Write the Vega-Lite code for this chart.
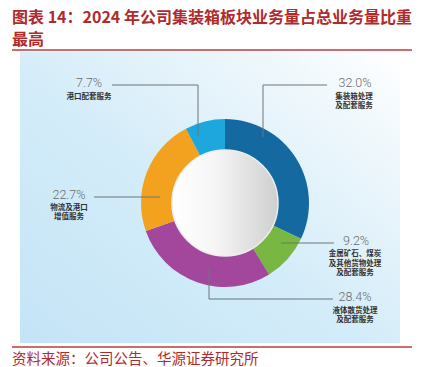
{
  "$schema": "https://vega.github.io/schema/vega-lite/v6.json",
  "autosize": {"type": "fit", "contains": "padding"},
  "width": 421,
  "height": 367,
  "padding": 0,
  "background": "#ffffff",
  "config": {"view": {"stroke": null}},
  "datasets": {
    "share": [
      {"name": "集装箱处理及配套服务", "value": 32.0, "ord": 1},
      {"name": "金属矿石、煤炭及其他货物处理及配套服务", "value": 9.2, "ord": 2},
      {"name": "液体散货处理及配套服务", "value": 28.4, "ord": 3},
      {"name": "物流及港口增值服务", "value": 22.7, "ord": 4},
      {"name": "港口配套服务", "value": 7.7, "ord": 5}
    ],
    "leaders": [
      {"x": 112, "y": 85, "x2": 198, "y2": 85},
      {"x": 198, "y": 85, "x2": 198, "y2": 136},
      {"x": 94, "y": 197, "x2": 160, "y2": 197},
      {"x": 327, "y": 85, "x2": 263, "y2": 85},
      {"x": 263, "y": 85, "x2": 263, "y2": 137},
      {"x": 281, "y": 243, "x2": 334, "y2": 243},
      {"x": 209, "y": 268, "x2": 209, "y2": 299},
      {"x": 209, "y": 299, "x2": 333, "y2": 299}
    ],
    "pcts": [
      {"text": "7.7%", "x": 89, "y": 83},
      {"text": "22.7%", "x": 69, "y": 195},
      {"text": "32.0%", "x": 355, "y": 83},
      {"text": "9.2%", "x": 356, "y": 241},
      {"text": "28.4%", "x": 355, "y": 297}
    ],
    "descs": [
      {"text": "港口配套服务", "x": 89, "y": 97},
      {"text": "物流及港口", "x": 69, "y": 207.5},
      {"text": "增值服务", "x": 69, "y": 217},
      {"text": "集装箱处理", "x": 354, "y": 96.5},
      {"text": "及配套服务", "x": 354, "y": 106},
      {"text": "金属矿石、煤炭", "x": 355, "y": 254},
      {"text": "及其他货物处理", "x": 355, "y": 263.5},
      {"text": "及配套服务", "x": 355, "y": 273},
      {"text": "液体散货处理", "x": 355, "y": 310.5},
      {"text": "及配套服务", "x": 355, "y": 320}
    ],
    "heads": [
      {"text": "图表 14：2024 年公司集装箱板块业务量占总业务量比重", "x": 12, "y": 17.5},
      {"text": "最高", "x": 12, "y": 39.5}
    ],
    "foot": [
      {"text": "资料来源：公司公告、华源证券研究所", "x": 12, "y": 360}
    ],
    "redlines": [
      {"x": 12, "x2": 412, "y": 50},
      {"x": 12, "x2": 412, "y": 347}
    ],
    "one": [{}]
  },
  "encoding": {},
  "layer": [
    {
      "data": {"name": "one"},
      "mark": {
        "type": "rect",
        "color": {
          "gradient": "linear", "x1": 0, "y1": 1, "x2": 1, "y2": 0,
          "stops": [
            {"offset": 0, "color": "#c4e4f6"},
            {"offset": 0.45, "color": "#d3ecf9"},
            {"offset": 0.8, "color": "#eef7fc"},
            {"offset": 1, "color": "#ffffff"}
          ]
        }
      },
      "encoding": {
        "x": {"datum": 20, "type": "quantitative", "scale": {"domain": [0, 421], "nice": false, "zero": false}, "axis": null},
        "x2": {"datum": 400},
        "y": {"datum": 52, "type": "quantitative", "scale": {"domain": [0, 367], "nice": false, "zero": false, "reverse": true}, "axis": null},
        "y2": {"datum": 343}
      }
    },
    {
      "data": {"name": "redlines"},
      "mark": {"type": "rule", "color": "#c0393b", "strokeWidth": 1.5},
      "encoding": {
        "x": {"field": "x", "type": "quantitative"},
        "x2": {"field": "x2"},
        "y": {"field": "y", "type": "quantitative"}
      }
    },
    {
      "data": {"name": "share"},
      "mark": {"type": "arc", "outerRadius": 84, "innerRadius": 50},
      "encoding": {
        "x": {"datum": 225, "type": "quantitative"},
        "y": {"datum": 203, "type": "quantitative"},
        "theta": {"field": "value", "type": "quantitative", "stack": true},
        "order": {"field": "ord", "type": "quantitative", "sort": "ascending"},
        "color": {
          "field": "name", "type": "nominal", "legend": null,
          "scale": {
            "domain": ["集装箱处理及配套服务", "金属矿石、煤炭及其他货物处理及配套服务", "液体散货处理及配套服务", "物流及港口增值服务", "港口配套服务"],
            "range": ["#146aa0", "#79b743", "#a2479b", "#f2a21e", "#1ea7dd"]
          }
        }
      }
    },
    {
      "data": {"name": "one"},
      "mark": {
        "type": "arc", "outerRadius": 53, "innerRadius": 0, "theta": 0, "theta2": 6.2832,
        "stroke": "#eeeeee", "strokeWidth": 1.5,
        "color": {
          "gradient": "linear", "x1": 0, "y1": 0, "x2": 1, "y2": 0,
          "stops": [
            {"offset": 0, "color": "#ffffff"},
            {"offset": 0.4, "color": "#f6f6f6"},
            {"offset": 1, "color": "#cfcfcf"}
          ]
        }
      },
      "encoding": {
        "x": {"datum": 225, "type": "quantitative"},
        "y": {"datum": 203, "type": "quantitative"}
      }
    },
    {
      "data": {"name": "leaders"},
      "mark": {"type": "rule", "color": "#6f7478", "strokeWidth": 1},
      "encoding": {
        "x": {"field": "x", "type": "quantitative"},
        "x2": {"field": "x2"},
        "y": {"field": "y", "type": "quantitative"},
        "y2": {"field": "y2"}
      }
    },
    {
      "data": {"name": "pcts"},
      "mark": {"type": "text", "font": "Roboto", "fontWeight": 300, "fontSize": 12.5, "color": "#6b6b6b", "align": "center", "baseline": "middle"},
      "encoding": {
        "x": {"field": "x", "type": "quantitative"},
        "y": {"field": "y", "type": "quantitative"},
        "text": {"field": "text"}
      }
    },
    {
      "data": {"name": "descs"},
      "mark": {"type": "text", "font": "Noto Sans CJK SC", "fontWeight": "bold", "fontSize": 7.5, "color": "#333333", "align": "center", "baseline": "middle"},
      "encoding": {
        "x": {"field": "x", "type": "quantitative"},
        "y": {"field": "y", "type": "quantitative"},
        "text": {"field": "text"}
      }
    },
    {
      "data": {"name": "heads"},
      "mark": {"type": "text", "font": "Noto Sans CJK SC", "fontWeight": "bold", "fontSize": 16, "color": "#b02a2c", "align": "left", "baseline": "middle"},
      "encoding": {
        "x": {"field": "x", "type": "quantitative"},
        "y": {"field": "y", "type": "quantitative"},
        "text": {"field": "text"}
      }
    },
    {
      "data": {"name": "foot"},
      "mark": {"type": "text", "font": "Noto Sans CJK SC", "fontWeight": "normal", "fontSize": 14.5, "color": "#b02a2c", "align": "left", "baseline": "middle"},
      "encoding": {
        "x": {"field": "x", "type": "quantitative"},
        "y": {"field": "y", "type": "quantitative"},
        "text": {"field": "text"}
      }
    }
  ]
}
